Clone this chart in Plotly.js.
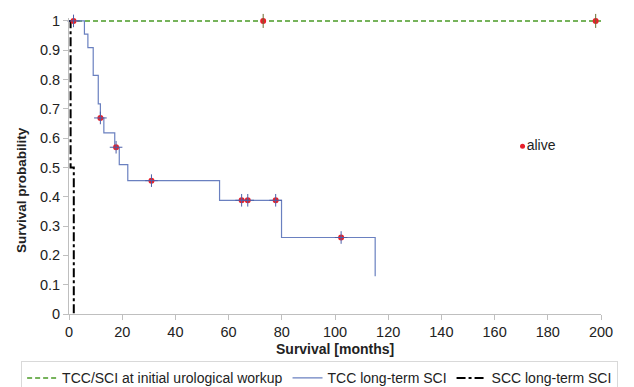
<!DOCTYPE html>
<html>
<head>
<meta charset="utf-8">
<script src="https://cdn.plot.ly/plotly-3.0.1.min.js"></script>
<style>html,body{margin:0;padding:0;background:#fff;}#chart{width:634px;height:387px;}</style>
</head>
<body>
<div id="chart"></div>
<script>
// Kaplan-Meier step data (months, survival probability)
const initialTimes = [0, 200];
const initialSurv = [1, 1];
const initialCensorTimes = [73, 198];
const initialCensorSurv = [1, 1];

const tccTimes = [0, 5.8, 7.1, 9.1, 11.0, 11.8, 13.1, 17.2, 18.9, 22.1, 56.6, 79.9, 115.1];
const tccSurv  = [1, 0.955, 0.909, 0.814, 0.717, 0.669, 0.618, 0.569, 0.51, 0.455, 0.388, 0.261, 0.129];
const tccCensorTimes = [1.7, 11.8, 17.7, 31, 64.9, 67.2, 77.7, 102.3];
const tccCensorSurv  = [1, 0.669, 0.569, 0.455, 0.388, 0.388, 0.388, 0.261];

const sccTimes = [0, 0.6, 1.8];
const sccSurv  = [1, 0.5, 0];

const aliveX = [170.5];
const aliveY = [0.572];
const aliveLabel = ['alive'];

const xTicks = [0, 20, 40, 60, 80, 100, 120, 140, 160, 180, 200];
const yTicks = [0, 0.1, 0.2, 0.3, 0.4, 0.5, 0.6, 0.7, 0.8, 0.9, 1];
const yTickText = ['0', '0.1', '0.2', '0.3', '0.4', '0.5', '0.6', '0.7', '0.8', '0.9', '1'];

const names = ['TCC/SCI at initial urological workup', 'TCC long-term SCI', 'SCC long-term SCI'];
const xTitle = 'Survival [months]';
const yTitle = 'Survival probability';

const red = '#e8202a';
const green = '#4a9a26';
const traces = [
  {x: initialTimes, y: initialSurv, mode: 'lines', name: names[0],
   line: {color: green, width: 1.6, dash: '5px,3px', shape: 'hv'}},
  {x: tccTimes, y: tccSurv, mode: 'lines', name: names[1],
   line: {color: '#6a80c0', width: 1.2, shape: 'hv'}},
  {x: sccTimes, y: sccSurv, mode: 'lines', name: names[2],
   line: {color: '#000000', width: 2, dash: 'dashdot', shape: 'hv'}},
  // censor markers
  {x: initialCensorTimes, y: initialCensorSurv, mode: 'markers', showlegend: false, hoverinfo: 'skip', cliponaxis: false,
   marker: {symbol: 'circle', size: 6, color: red, line: {width: 0}}},
  {x: initialCensorTimes, y: initialCensorSurv, mode: 'markers', showlegend: false, hoverinfo: 'skip', cliponaxis: false,
   marker: {symbol: 'line-ns', size: 10, color: '#6b6a30', line: {width: 1, color: '#6b6a30'}}},
  {x: tccCensorTimes, y: tccCensorSurv, mode: 'markers', showlegend: false, hoverinfo: 'skip', cliponaxis: false,
   marker: {symbol: 'circle', size: 6, color: red, line: {width: 0}}},
  {x: tccCensorTimes, y: tccCensorSurv, mode: 'markers', showlegend: false, hoverinfo: 'skip', cliponaxis: false,
   marker: {symbol: 'cross-thin', size: 9, color: '#4d5fa8', line: {width: 1, color: '#4d5fa8'}}},
  {x: aliveX, y: aliveY, mode: 'markers+text', text: aliveLabel, textposition: 'middle right', showlegend: false, hoverinfo: 'skip',
   marker: {symbol: 'circle', size: 5, color: red}, textfont: {size: 14, color: '#222', family: 'Liberation Sans, Arial, sans-serif'}}
];

const layout = {
  width: 634, height: 387,
  margin: {l: 68.5, r: 33, t: 17.5, b: 73, autoexpand: false},
  paper_bgcolor: '#ffffff', plot_bgcolor: '#ffffff',
  font: {family: 'Liberation Sans, Arial, sans-serif', size: 14, color: '#222'},
  showlegend: true,
  legend: {orientation: 'h', x: -0.09, xanchor: 'left', y: -0.16, yanchor: 'top',
           bordercolor: '#d9d9d9', borderwidth: 1, font: {size: 14, color: '#222'},
           tracegroupgap: 0},
  xaxis: {range: [0, 200], tickvals: xTicks, ticks: 'outside', ticklen: 5, tickcolor: '#bfbfbf',
          showline: true, linecolor: '#bfbfbf', linewidth: 1, showgrid: false, zeroline: false,
          tickfont: {size: 14.5}, fixedrange: true, automargin: false},
  yaxis: {range: [0, 1.01], tickvals: yTicks, ticktext: yTickText, ticks: 'outside', ticklen: 5, tickcolor: '#bfbfbf',
          showline: true, linecolor: '#bfbfbf', linewidth: 1, showgrid: false, zeroline: false,
          tickfont: {size: 14.5}, fixedrange: true, automargin: false},
  annotations: [
    {text: '<b>' + yTitle + '</b>', xref: 'paper', yref: 'paper', x: -0.089, y: 0.418,
     xanchor: 'center', yanchor: 'middle', textangle: -90, showarrow: false,
     font: {size: 13.5, color: '#222'}},
    {text: '<b>' + xTitle + '</b>', xref: 'paper', yref: 'paper', x: 0.5, y: -0.118,
     xanchor: 'center', yanchor: 'middle', showarrow: false,
     font: {size: 14, color: '#222'}}
  ]
};

Plotly.newPlot('chart', traces, layout, {displayModeBar: false, staticPlot: true});
</script>
</body>
</html>
